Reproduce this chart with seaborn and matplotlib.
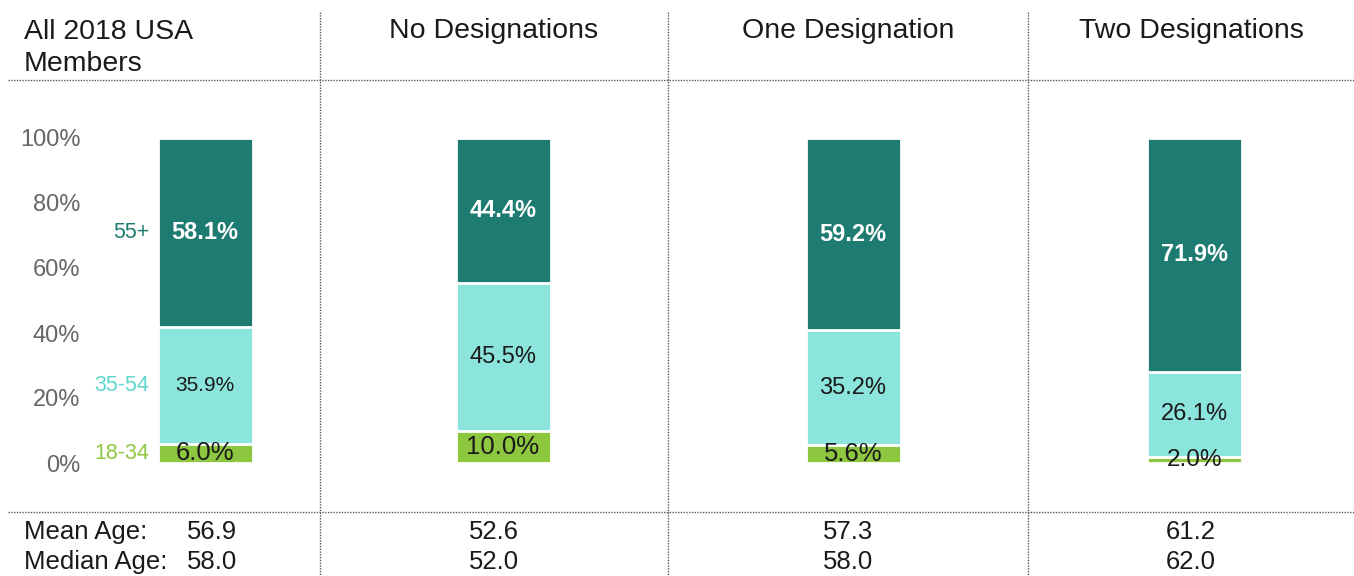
import matplotlib
matplotlib.use("Agg")
import matplotlib.pyplot as plt
from matplotlib.lines import Line2D
import seaborn as sns
import pandas as pd

# ---- data ----
groups = ["All 2018 USA\nMembers", "No Designations", "One Designation", "Two Designations"]
age_bands = ["18-34", "35-54", "55+"]
share_18_34 = [6.0, 10.0, 5.6, 2.0]
share_35_54 = [35.9, 45.5, 35.2, 26.1]
share_55_plus = [58.1, 44.4, 59.2, 71.9]
mean_age = ["56.9", "52.6", "57.3", "61.2"]
median_age = ["58.0", "52.0", "58.0", "62.0"]
y_ticks = [0, 20, 40, 60, 80, 100]

# ---- style ----
sns.set_theme(style="white")
plt.rcParams["font.family"] = ["Liberation Sans", "DejaVu Sans"]

C_OLD = "#1e7b72"
C_MID = "#8ce5dc"
C_YOUNG = "#8dc63f"
C_MID_TXT = "#5ed8cc"
C_TXT = "#1a1a1a"
C_TICK = "#666666"

W, H = 1354, 576
fig = plt.figure(figsize=(W / 100, H / 100), dpi=100)

# panel layout in pixels: (axes left, axes right, bar center)
panels = [(90, 320, 205), (320, 668, 503), (668, 1028, 853), (1028, 1354, 1194)]
unit = 118.75  # pixels per x data unit (bar width 0.8 -> 95 px)
ax_top, ax_bot = 80, 512
ylim = (-(ax_bot - 463) / 3.25, (463 - ax_top) / 3.25)

for i, (L, R, c) in enumerate(panels):
    ax = fig.add_axes([L / W, (H - ax_bot) / H, (R - L) / W, (ax_bot - ax_top) / H])
    young = share_18_34[i]
    mid = share_35_54[i]
    old = share_55_plus[i]
    df = pd.DataFrame({
        "g": [groups[i]],
        "total": [young + mid + old],
        "mid": [young + mid],
        "young": [young],
    })
    sns.barplot(data=df, x="g", y="total", color=C_OLD, saturation=1,
                edgecolor="white", linewidth=2, width=0.8, ax=ax)
    sns.barplot(data=df, x="g", y="mid", color=C_MID, saturation=1,
                edgecolor="white", linewidth=2, width=0.8, ax=ax)
    sns.barplot(data=df, x="g", y="young", color=C_YOUNG, saturation=1,
                edgecolor="white", linewidth=2, width=0.8, ax=ax)
    ax.set_xlim(-(c - L) / unit, (R - c) / unit)
    ax.set_ylim(*ylim)
    ax.set_xlabel("")
    ax.set_ylabel("")
    ax.set_xticks([])
    for s in ax.spines.values():
        s.set_visible(False)

    # segment labels
    ax.text(0, young + mid + old / 2, f"{old:.1f}%", ha="center", va="center",
            color="white", fontsize=17, fontweight="bold")
    ax.text(0, young + mid / 2, f"{mid:.1f}%", ha="center", va="center",
            color=C_TXT, fontsize=17 if i else 15)
    ax.text(0, young / 2, f"{young:.1f}%", ha="center", va="center",
            color=C_TXT, fontsize=18.5 if i != 3 else 17.5)

    if i == 0:
        ax.set_yticks(y_ticks)
        ax.set_yticklabels([f"{t}%" for t in y_ticks], fontsize=17, color=C_TICK)
        ax.tick_params(axis="y", length=0, pad=7)
        ax.text(-0.47, young + mid + old / 2, age_bands[2], ha="right", va="center",
                color=C_OLD, fontsize=15.5)
        ax.text(-0.47, young + mid / 2, age_bands[1], ha="right", va="center",
                color=C_MID_TXT, fontsize=15.5)
        ax.text(-0.47, young / 2, age_bands[0], ha="right", va="center",
                color=C_YOUNG, fontsize=15.5)
    else:
        ax.set_yticks([])

# ---- titles and bottom stats ----
centers = [None, (320 + 668) / 2, (668 + 1028) / 2, (1028 + 1354) / 2]
fig.text(24 / W, 1 - 19 / H, groups[0], ha="left", va="top", fontsize=20.5,
         color=C_TXT, linespacing=1.28)
fig.text(24 / W, 1 - 532 / H, "Mean Age:", ha="left", va="center", fontsize=18.5, color=C_TXT)
fig.text(24 / W, 1 - 562 / H, "Median Age:", ha="left", va="center", fontsize=18.5, color=C_TXT)
fig.text(187 / W, 1 - 532 / H, mean_age[0], ha="left", va="center", fontsize=18.5, color=C_TXT)
fig.text(187 / W, 1 - 562 / H, median_age[0], ha="left", va="center", fontsize=18.5, color=C_TXT)
for i in range(1, 4):
    fig.text(centers[i] / W, 1 - 31 / H, groups[i], ha="center", va="center",
             fontsize=20.5, color=C_TXT)
    fig.text(centers[i] / W, 1 - 532 / H, mean_age[i], ha="center", va="center",
             fontsize=18.5, color=C_TXT)
    fig.text(centers[i] / W, 1 - 562 / H, median_age[i], ha="center", va="center",
             fontsize=18.5, color=C_TXT)

# ---- dotted separators ----
for x in [320, 668, 1028]:
    fig.add_artist(Line2D([x / W, x / W], [1 - 12 / H, 0], color="#555555",
                          lw=1, ls=(0, (1, 1)), transform=fig.transFigure))
for y in [80, 512]:
    fig.add_artist(Line2D([8 / W, 1], [1 - y / H, 1 - y / H], color="#555555",
                          lw=1, ls=(0, (1, 1)), transform=fig.transFigure))

fig.savefig("out.png", dpi=100, facecolor="white")
